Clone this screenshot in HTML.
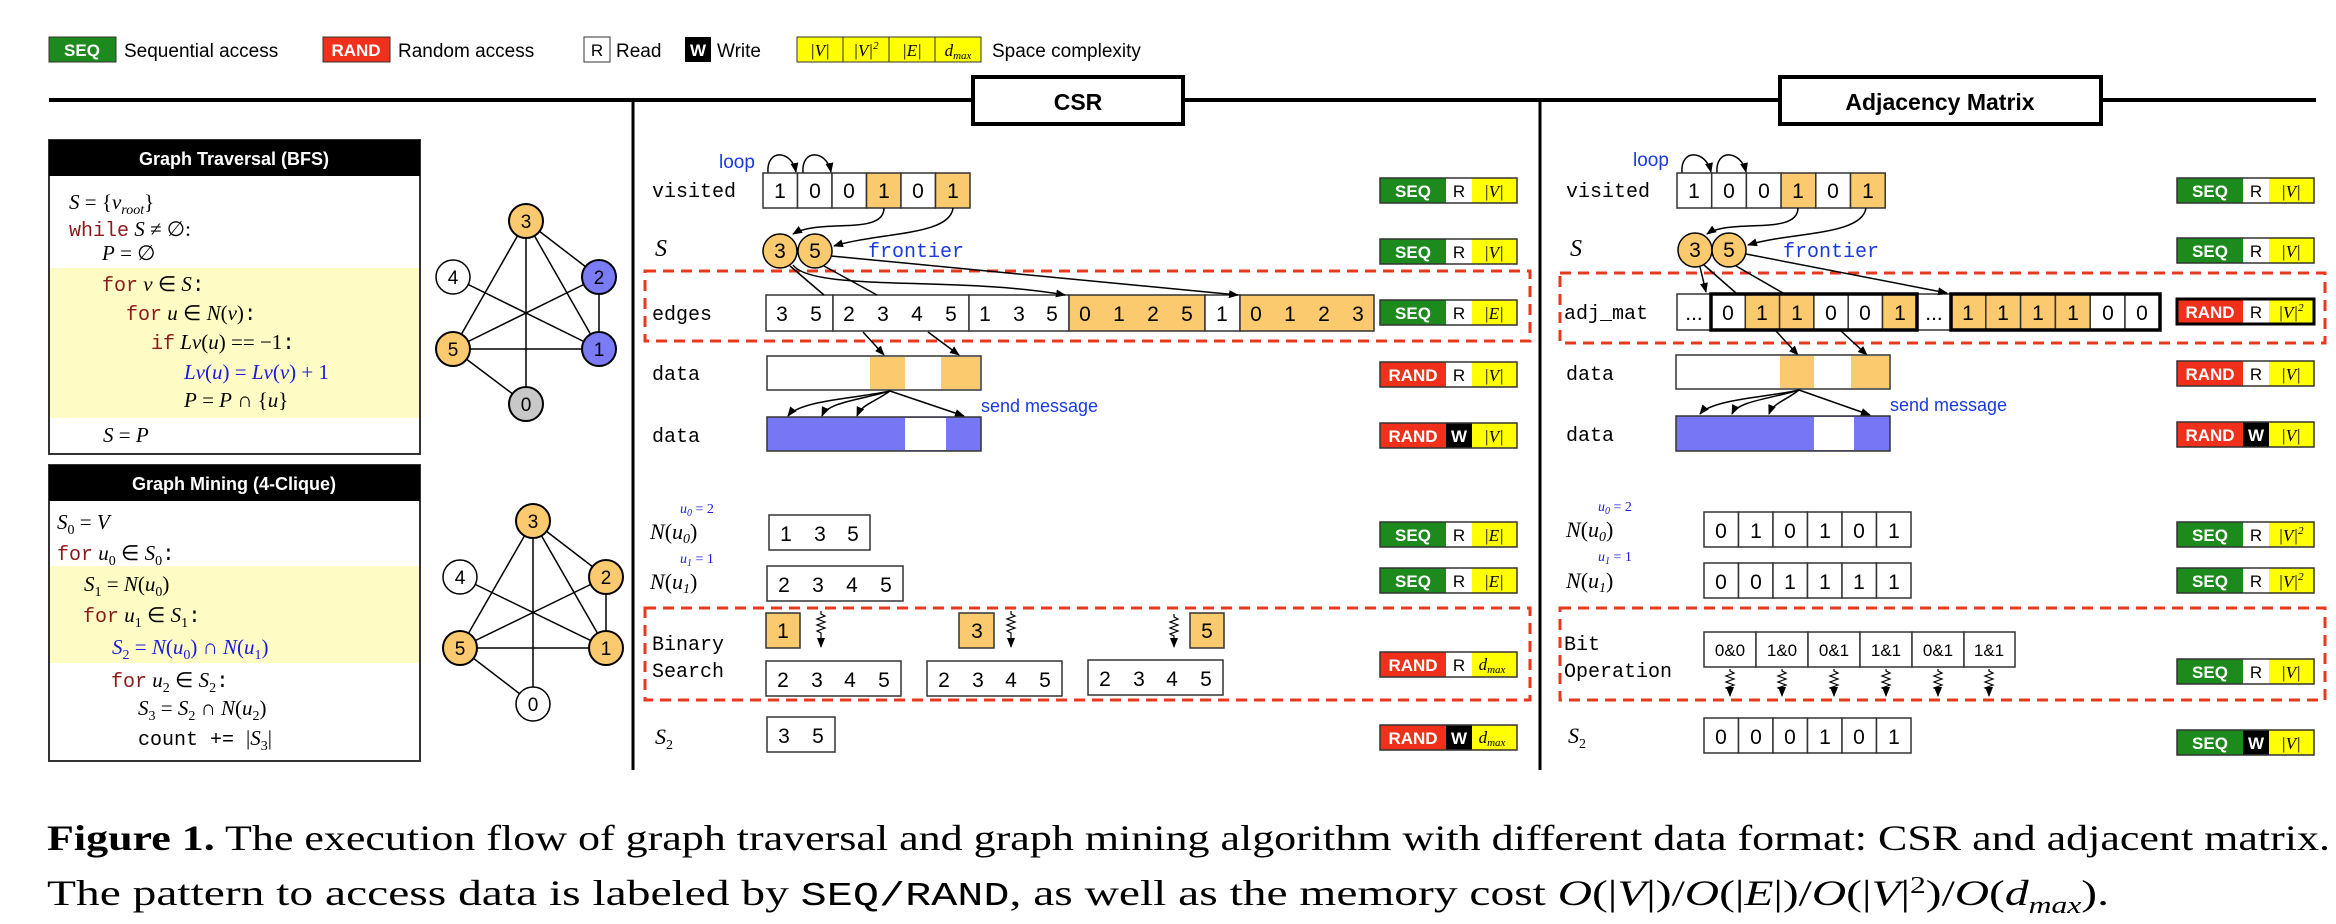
<!DOCTYPE html>
<html><head><meta charset="utf-8"><style>
html,body{margin:0;padding:0;background:#fff;}
svg{display:block;}
.s{font-family:"Liberation Sans",sans-serif;}
.m{font-family:"Liberation Mono",monospace;}
.it{font-family:"Liberation Serif",serif;font-style:italic;}
.c{font-family:"Liberation Sans",sans-serif;font-size:21px;text-anchor:middle;}
.bw{font-family:"Liberation Sans",sans-serif;font-weight:bold;font-size:17px;fill:#fff;text-anchor:middle;}
.bk{font-family:"Liberation Sans",sans-serif;font-size:17px;text-anchor:middle;}
.by{font-family:"Liberation Serif",serif;font-style:italic;font-size:17px;text-anchor:middle;}
.lbl{font-family:"Liberation Mono",monospace;font-size:20px;}
</style></head><body>
<svg width="2336" height="924" viewBox="0 0 2336 924" xmlns="http://www.w3.org/2000/svg">
<defs>
<marker id="a" markerWidth="10" markerHeight="8" refX="9" refY="4" orient="auto" markerUnits="userSpaceOnUse"><path d="M0,0 L10,4 L0,8 z" fill="#000"/></marker>
</defs>

<!-- Legend -->
<rect x="49" y="37" width="67" height="25" fill="#1c8a1c" stroke="#333"/>
<text x="82" y="56" class="bw">SEQ</text>
<text x="124" y="57" class="s" font-size="19">Sequential access</text>
<rect x="323" y="37" width="67" height="25" fill="#f0301a" stroke="#333"/>
<text x="356" y="56" class="bw">RAND</text>
<text x="398" y="57" class="s" font-size="19">Random access</text>
<rect x="584" y="37" width="26" height="25" fill="#fff" stroke="#333"/>
<text x="597" y="56" class="bk">R</text>
<text x="616" y="57" class="s" font-size="19">Read</text>
<rect x="685" y="37" width="26" height="25" fill="#000"/>
<text x="698" y="56" class="bw">W</text>
<text x="717" y="57" class="s" font-size="19">Write</text>
<rect x="797" y="37" width="184" height="25" fill="#ffff00" stroke="#333"/>
<line x1="843" y1="37" x2="843" y2="62" stroke="#333"/><line x1="889" y1="37" x2="889" y2="62" stroke="#333"/><line x1="935" y1="37" x2="935" y2="62" stroke="#333"/>
<text x="820" y="56" class="by">|V|</text>
<text x="866" y="56" class="by">|V|<tspan font-size="11" dy="-7">2</tspan></text>
<text x="912" y="56" class="by">|E|</text>
<text x="958" y="56" class="by" font-style="normal">d<tspan font-size="11" font-style="italic" dy="3">max</tspan></text>
<text x="992" y="57" class="s" font-size="19">Space  complexity</text>

<!-- Frame -->
<line x1="49" y1="100" x2="2316" y2="100" stroke="#000" stroke-width="4"/>
<line x1="633" y1="100" x2="633" y2="770" stroke="#000" stroke-width="3"/>
<line x1="1540" y1="100" x2="1540" y2="770" stroke="#000" stroke-width="3"/>
<rect x="973" y="77" width="210" height="47" fill="#fff" stroke="#000" stroke-width="4"/>
<text x="1078" y="110" class="s" font-size="23" font-weight="bold" text-anchor="middle">CSR</text>
<rect x="1780" y="77" width="321" height="47" fill="#fff" stroke="#000" stroke-width="4"/>
<text x="1940" y="110" class="s" font-size="23" font-weight="bold" text-anchor="middle">Adjacency Matrix</text>

<!-- BFS box -->
<rect x="49" y="140" width="371" height="314" fill="#fff" stroke="#333" stroke-width="2"/>
<rect x="50" y="268" width="369" height="150" fill="#fffbc4"/>
<rect x="49" y="140" width="371" height="36" fill="#000"/>
<text x="234" y="165" class="s" font-size="18" font-weight="bold" fill="#fff" text-anchor="middle">Graph Traversal (BFS)</text>
<g font-size="21">
<text x="69" y="209" class="it">S<tspan font-style="normal"> = {</tspan>v<tspan font-size="14" dy="5">root</tspan><tspan dy="-5" font-style="normal">}</tspan></text>
<text x="69" y="236"><tspan class="m" fill="#8b1a1a" font-size="20">while</tspan><tspan class="it"> S</tspan><tspan font-family="Liberation Serif"> ≠ ∅:</tspan></text>
<text x="102" y="260" class="it">P<tspan font-style="normal"> = ∅</tspan></text>
<text x="102" y="291"><tspan class="m" fill="#8b1a1a" font-size="20">for</tspan><tspan class="it"> v</tspan><tspan font-family="Liberation Serif"> ∈ </tspan><tspan class="it">S</tspan><tspan class="m">:</tspan></text>
<text x="126" y="320"><tspan class="m" fill="#8b1a1a" font-size="20">for</tspan><tspan class="it"> u</tspan><tspan font-family="Liberation Serif"> ∈ </tspan><tspan class="it">N</tspan><tspan font-family="Liberation Serif">(</tspan><tspan class="it">v</tspan><tspan font-family="Liberation Serif">)</tspan><tspan class="m">:</tspan></text>
<text x="151" y="349"><tspan class="m" fill="#8b1a1a" font-size="20">if</tspan><tspan class="it"> Lv</tspan><tspan font-family="Liberation Serif">(</tspan><tspan class="it">u</tspan><tspan font-family="Liberation Serif">) == −1</tspan><tspan class="m">:</tspan></text>
<text x="184" y="379" fill="#1a1ae0" font-family="Liberation Serif"><tspan font-style="italic">Lv</tspan>(<tspan font-style="italic">u</tspan>) = <tspan font-style="italic">Lv</tspan>(<tspan font-style="italic">v</tspan>) + 1</text>
<text x="184" y="407" font-family="Liberation Serif"><tspan font-style="italic">P</tspan> = <tspan font-style="italic">P</tspan> ∩ {<tspan font-style="italic">u</tspan>}</text>
<text x="103" y="442" font-family="Liberation Serif"><tspan font-style="italic">S</tspan> = <tspan font-style="italic">P</tspan></text>
</g>

<!-- BFS graph -->
<g stroke="#000" stroke-width="1.5">
<line x1="526" y1="221" x2="599" y2="277"/><line x1="526" y1="221" x2="453" y2="349"/><line x1="526" y1="221" x2="599" y2="349"/><line x1="526" y1="221" x2="526" y2="404"/>
<line x1="453" y1="277" x2="599" y2="349"/><line x1="453" y1="349" x2="599" y2="277"/><line x1="453" y1="349" x2="599" y2="349"/><line x1="453" y1="349" x2="526" y2="404"/><line x1="599" y1="277" x2="599" y2="349"/>
</g>
<g stroke="#000" stroke-width="2" class="s" font-size="19" text-anchor="middle">
<circle cx="526" cy="221" r="17" fill="#fbc96e"/><circle cx="599" cy="277" r="17" fill="#7b7bf5"/><circle cx="453" cy="277" r="17" fill="#fff" stroke-width="1.5"/>
<circle cx="453" cy="349" r="17" fill="#fbc96e"/><circle cx="599" cy="349" r="17" fill="#7b7bf5"/><circle cx="526" cy="404" r="17" fill="#c8c8c8"/>
</g>
<g class="s" font-size="19" text-anchor="middle">
<text x="526" y="228">3</text><text x="599" y="284">2</text><text x="453" y="284">4</text><text x="453" y="356">5</text><text x="599" y="356">1</text><text x="526" y="411">0</text>
</g>

<!-- Mining box -->
<rect x="49" y="465" width="371" height="296" fill="#fff" stroke="#333" stroke-width="2"/>
<rect x="50" y="566" width="369" height="97" fill="#fffbc4"/>
<rect x="49" y="465" width="371" height="36" fill="#000"/>
<text x="234" y="490" class="s" font-size="18" font-weight="bold" fill="#fff" text-anchor="middle">Graph Mining (4-Clique)</text>
<g font-size="21" font-family="Liberation Serif">
<text x="57" y="529"><tspan font-style="italic">S</tspan><tspan font-size="14" dy="5">0</tspan><tspan dy="-5"> = </tspan><tspan font-style="italic">V</tspan></text>
<text x="57" y="560"><tspan class="m" fill="#8b1a1a" font-size="20">for</tspan><tspan font-style="italic"> u</tspan><tspan font-size="14" dy="5">0</tspan><tspan dy="-5"> ∈ </tspan><tspan font-style="italic">S</tspan><tspan font-size="14" dy="5">0</tspan><tspan dy="-5" class="m">:</tspan></text>
<text x="84" y="591"><tspan font-style="italic">S</tspan><tspan font-size="14" dy="5">1</tspan><tspan dy="-5"> = </tspan><tspan font-style="italic">N</tspan>(<tspan font-style="italic">u</tspan><tspan font-size="14" dy="5">0</tspan><tspan dy="-5">)</tspan></text>
<text x="83" y="622"><tspan class="m" fill="#8b1a1a" font-size="20">for</tspan><tspan font-style="italic"> u</tspan><tspan font-size="14" dy="5">1</tspan><tspan dy="-5"> ∈ </tspan><tspan font-style="italic">S</tspan><tspan font-size="14" dy="5">1</tspan><tspan dy="-5" class="m">:</tspan></text>
<text x="112" y="654" fill="#1a1ae0"><tspan font-style="italic">S</tspan><tspan font-size="14" dy="5">2</tspan><tspan dy="-5"> = </tspan><tspan font-style="italic">N</tspan>(<tspan font-style="italic">u</tspan><tspan font-size="14" dy="5">0</tspan><tspan dy="-5">) ∩ </tspan><tspan font-style="italic">N</tspan>(<tspan font-style="italic">u</tspan><tspan font-size="14" dy="5">1</tspan><tspan dy="-5">)</tspan></text>
<text x="111" y="687"><tspan class="m" fill="#8b1a1a" font-size="20">for</tspan><tspan font-style="italic"> u</tspan><tspan font-size="14" dy="5">2</tspan><tspan dy="-5"> ∈ </tspan><tspan font-style="italic">S</tspan><tspan font-size="14" dy="5">2</tspan><tspan dy="-5" class="m">:</tspan></text>
<text x="138" y="715"><tspan font-style="italic">S</tspan><tspan font-size="14" dy="5">3</tspan><tspan dy="-5"> = </tspan><tspan font-style="italic">S</tspan><tspan font-size="14" dy="5">2</tspan><tspan dy="-5"> ∩ </tspan><tspan font-style="italic">N</tspan>(<tspan font-style="italic">u</tspan><tspan font-size="14" dy="5">2</tspan><tspan dy="-5">)</tspan></text>
<text x="138" y="745"><tspan class="m" font-size="20">count += </tspan>|<tspan font-style="italic">S</tspan><tspan font-size="14" dy="5">3</tspan><tspan dy="-5">|</tspan></text>
</g>

<!-- Mining graph -->
<g stroke="#000" stroke-width="1.5">
<line x1="533" y1="521" x2="606" y2="577"/><line x1="533" y1="521" x2="460" y2="648"/><line x1="533" y1="521" x2="606" y2="648"/><line x1="533" y1="521" x2="533" y2="704"/>
<line x1="460" y1="577" x2="606" y2="648"/><line x1="460" y1="648" x2="606" y2="577"/><line x1="460" y1="648" x2="606" y2="648"/><line x1="460" y1="648" x2="533" y2="704"/><line x1="606" y1="577" x2="606" y2="648"/>
</g>
<g stroke="#000" stroke-width="2">
<circle cx="533" cy="521" r="17" fill="#fbc96e"/><circle cx="606" cy="577" r="17" fill="#fbc96e"/><circle cx="460" cy="577" r="17" fill="#fff" stroke-width="1.5"/>
<circle cx="460" cy="648" r="17" fill="#fbc96e"/><circle cx="606" cy="648" r="17" fill="#fbc96e"/><circle cx="533" cy="704" r="17" fill="#fff" stroke-width="1.5"/>
</g>
<g class="s" font-size="19" text-anchor="middle">
<text x="533" y="528">3</text><text x="606" y="584">2</text><text x="460" y="584">4</text><text x="460" y="655">5</text><text x="606" y="655">1</text><text x="533" y="711">0</text>
</g>

<!-- ===== CSR panel ===== -->
<text x="719" y="168" class="s" font-size="19" fill="#1a3ae0">loop</text>
<path d="M768,173 C766,148 792,150 796,172" fill="none" stroke="#000" stroke-width="1.5" marker-end="url(#a)"/>
<path d="M803,173 C801,148 827,150 831,172" fill="none" stroke="#000" stroke-width="1.5" marker-end="url(#a)"/>
<text x="652" y="197" class="lbl">visited</text>
<g stroke="#333" stroke-width="1.5">
<rect x="763" y="173" width="34.5" height="35" fill="#fff"/><rect x="797.5" y="173" width="34.5" height="35" fill="#fff"/><rect x="832" y="173" width="34.5" height="35" fill="#fff"/>
<rect x="866.5" y="173" width="34.5" height="35" fill="#fbc96e"/><rect x="901" y="173" width="34.5" height="35" fill="#fff"/><rect x="935.5" y="173" width="34.5" height="35" fill="#fbc96e"/>
</g>
<g class="c"><text x="780" y="198">1</text><text x="815" y="198">0</text><text x="849" y="198">0</text><text x="884" y="198">1</text><text x="918" y="198">0</text><text x="953" y="198">1</text></g>
<path d="M884,208 C884,236 820,218 793,234" fill="none" stroke="#000" stroke-width="1.5" marker-end="url(#a)"/>
<path d="M953,208 C950,236 880,232 834,246" fill="none" stroke="#000" stroke-width="1.5" marker-end="url(#a)"/>
<text x="655" y="256" class="it" font-size="24">S</text>
<circle cx="780" cy="251" r="17" fill="#fbc96e" stroke="#000" stroke-width="1.5"/>
<circle cx="815" cy="251" r="17" fill="#fbc96e" stroke="#000" stroke-width="1.5"/>
<text x="780" y="258" class="c">3</text><text x="815" y="258" class="c">5</text>
<text x="868" y="257" class="m" font-size="20" fill="#1a3ae0">frontier</text>

<rect x="645" y="271" width="885" height="70" fill="none" stroke="#e8381e" stroke-width="3" stroke-dasharray="11,7"/>
<text x="652" y="320" class="lbl">edges</text>
<g stroke="#333" stroke-width="1.5">
<rect x="766" y="295" width="67" height="36" fill="#fff"/><rect x="833" y="295" width="136" height="36" fill="#fff"/><rect x="969" y="295" width="100" height="36" fill="#fff"/>
<rect x="1069" y="295" width="136" height="36" fill="#fbc96e"/><rect x="1205" y="295" width="35" height="36" fill="#fff"/><rect x="1240" y="295" width="134" height="36" fill="#fbc96e"/>
</g>
<g class="c">
<text x="782" y="321">3</text><text x="816" y="321">5</text>
<text x="849" y="321">2</text><text x="883" y="321">3</text><text x="917" y="321">4</text><text x="951" y="321">5</text>
<text x="985" y="321">1</text><text x="1019" y="321">3</text><text x="1052" y="321">5</text>
<text x="1085" y="321">0</text><text x="1119" y="321">1</text><text x="1153" y="321">2</text><text x="1187" y="321">5</text>
<text x="1222" y="321">1</text>
<text x="1256" y="321">0</text><text x="1290" y="321">1</text><text x="1324" y="321">2</text><text x="1358" y="321">3</text>
</g>
<g stroke="#000" stroke-width="1.5" fill="none">
<line x1="790" y1="266" x2="824" y2="295"/>
<line x1="824" y1="266" x2="877" y2="295"/>
<path d="M793,265 C812,292 960,276 1065,295" marker-end="url(#a)"/>
<line x1="831" y1="256" x2="1238" y2="295" marker-end="url(#a)"/>
<line x1="863" y1="332" x2="884" y2="355" marker-end="url(#a)"/>
<line x1="928" y1="332" x2="959" y2="355" marker-end="url(#a)"/>
</g>
<text x="652" y="380" class="lbl">data</text>
<rect x="767" y="356" width="214" height="34" fill="#fff" stroke="#333" stroke-width="1.5"/>
<rect x="870" y="357" width="35" height="32" fill="#fbc96e"/><rect x="941" y="357" width="39" height="32" fill="#fbc96e"/>
<g stroke="#000" stroke-width="1.5" fill="none">
<path d="M890,391 C860,398 800,400 788,416" marker-end="url(#a)"/>
<path d="M890,391 C860,400 828,402 822,416" marker-end="url(#a)"/>
<path d="M890,391 C875,402 862,404 857,416" marker-end="url(#a)"/>
<line x1="890" y1="391" x2="964" y2="416" marker-end="url(#a)"/>
</g>
<text x="981" y="412" class="s" font-size="18" fill="#1a3ae0">send message</text>
<text x="652" y="442" class="lbl">data</text>
<rect x="767" y="417" width="214" height="34" fill="#7777f5" stroke="#333" stroke-width="1.5"/>
<rect x="905" y="418" width="41" height="32" fill="#fff"/>

<!-- CSR bottom -->
<text x="680" y="513" class="it" font-size="14" fill="#1a1ae0">u<tspan font-size="10" dy="3">0</tspan><tspan dy="-3" font-style="normal"> = 2</tspan></text>
<text x="650" y="539" class="it" font-size="22">N<tspan font-style="normal">(</tspan>u<tspan font-size="14" dy="4">0</tspan><tspan dy="-4" font-style="normal">)</tspan></text>
<rect x="769" y="515" width="101" height="35" fill="#fff" stroke="#333" stroke-width="1.5"/>
<g class="c"><text x="786" y="541">1</text><text x="820" y="541">3</text><text x="853" y="541">5</text></g>
<text x="680" y="563" class="it" font-size="14" fill="#1a1ae0">u<tspan font-size="10" dy="3">1</tspan><tspan dy="-3" font-style="normal"> = 1</tspan></text>
<text x="650" y="589" class="it" font-size="22">N<tspan font-style="normal">(</tspan>u<tspan font-size="14" dy="4">1</tspan><tspan dy="-4" font-style="normal">)</tspan></text>
<rect x="767" y="566" width="136" height="35" fill="#fff" stroke="#333" stroke-width="1.5"/>
<g class="c"><text x="784" y="592">2</text><text x="818" y="592">3</text><text x="852" y="592">4</text><text x="886" y="592">5</text></g>

<rect x="645" y="608" width="885" height="92" fill="none" stroke="#e8381e" stroke-width="3" stroke-dasharray="11,7"/>
<text x="652" y="650" class="lbl">Binary</text>
<text x="652" y="677" class="lbl">Search</text>
<g stroke="#333" stroke-width="1.5">
<rect x="766" y="613" width="34" height="35" fill="#fbc96e"/><rect x="959" y="613" width="35" height="35" fill="#fbc96e"/><rect x="1190" y="613" width="34" height="35" fill="#fbc96e"/>
<rect x="766" y="661" width="135" height="35" fill="#fff"/><rect x="927" y="661" width="135" height="35" fill="#fff"/><rect x="1088" y="660" width="135" height="35" fill="#fff"/>
</g>
<g class="c">
<text x="783" y="638">1</text><text x="977" y="638">3</text><text x="1207" y="638">5</text>
<text x="783" y="687">2</text><text x="817" y="687">3</text><text x="850" y="687">4</text><text x="884" y="687">5</text>
<text x="944" y="687">2</text><text x="978" y="687">3</text><text x="1011" y="687">4</text><text x="1045" y="687">5</text>
<text x="1105" y="686">2</text><text x="1139" y="686">3</text><text x="1172" y="686">4</text><text x="1206" y="686">5</text>
</g>
<g stroke="#000" stroke-width="1.2" fill="none">
<path d="M821,611 l0,3 l4,2 l-8,3 l8,3 l-8,3 l8,3 l-8,3 l4,2 l0,14" marker-end="url(#a)"/>
<path d="M1011,611 l0,3 l4,2 l-8,3 l8,3 l-8,3 l8,3 l-8,3 l4,2 l0,14" marker-end="url(#a)"/>
<path d="M1174,614 l0,3 l4,2 l-8,3 l8,3 l-8,3 l8,3 l-8,3 l4,2 l0,11" marker-end="url(#a)"/>
</g>
<text x="655" y="744" class="it" font-size="22">S<tspan font-size="14" dy="5" font-style="normal">2</tspan></text>
<rect x="767" y="717" width="68" height="35" fill="#fff" stroke="#333" stroke-width="1.5"/>
<g class="c"><text x="784" y="743">3</text><text x="818" y="743">5</text></g>

<!-- ===== Adjacency panel ===== -->
<text x="1633" y="166" class="s" font-size="19" fill="#1a3ae0">loop</text>
<path d="M1682,173 C1680,148 1706,150 1711,172" fill="none" stroke="#000" stroke-width="1.5" marker-end="url(#a)"/>
<path d="M1717,173 C1715,148 1741,150 1746,172" fill="none" stroke="#000" stroke-width="1.5" marker-end="url(#a)"/>
<text x="1566" y="197" class="lbl">visited</text>
<g stroke="#333" stroke-width="1.5">
<rect x="1677" y="173" width="34.7" height="35" fill="#fff"/><rect x="1711.7" y="173" width="34.7" height="35" fill="#fff"/><rect x="1746.4" y="173" width="34.7" height="35" fill="#fff"/>
<rect x="1781.1" y="173" width="34.7" height="35" fill="#fbc96e"/><rect x="1815.8" y="173" width="34.7" height="35" fill="#fff"/><rect x="1850.5" y="173" width="34.7" height="35" fill="#fbc96e"/>
</g>
<g class="c"><text x="1694" y="198">1</text><text x="1729" y="198">0</text><text x="1764" y="198">0</text><text x="1798" y="198">1</text><text x="1833" y="198">0</text><text x="1868" y="198">1</text></g>
<path d="M1798,208 C1798,236 1730,218 1707,234" fill="none" stroke="#000" stroke-width="1.5" marker-end="url(#a)"/>
<path d="M1866,208 C1862,236 1790,232 1748,245" fill="none" stroke="#000" stroke-width="1.5" marker-end="url(#a)"/>
<text x="1570" y="256" class="it" font-size="24">S</text>
<circle cx="1695" cy="250" r="17" fill="#fbc96e" stroke="#000" stroke-width="1.5"/>
<circle cx="1729" cy="250" r="17" fill="#fbc96e" stroke="#000" stroke-width="1.5"/>
<text x="1695" y="257" class="c">3</text><text x="1729" y="257" class="c">5</text>
<text x="1783" y="257" class="m" font-size="20" fill="#1a3ae0">frontier</text>

<rect x="1560" y="273" width="765" height="70" fill="none" stroke="#e8381e" stroke-width="3" stroke-dasharray="11,7"/>
<text x="1564" y="319" class="lbl">adj_mat</text>
<g stroke="#333" stroke-width="1.5">
<rect x="1677" y="294" width="34" height="36" fill="#fff"/>
<rect x="1711" y="294" width="34.3" height="36" fill="#fff"/><rect x="1745.3" y="294" width="34.3" height="36" fill="#fbc96e"/><rect x="1779.6" y="294" width="34.3" height="36" fill="#fbc96e"/>
<rect x="1813.9" y="294" width="34.3" height="36" fill="#fff"/><rect x="1848.2" y="294" width="34.3" height="36" fill="#fff"/><rect x="1882.5" y="294" width="34.5" height="36" fill="#fbc96e"/>
<rect x="1917" y="294" width="34" height="36" fill="#fff"/>
<rect x="1951" y="294" width="34.8" height="36" fill="#fbc96e"/><rect x="1985.8" y="294" width="34.8" height="36" fill="#fbc96e"/><rect x="2020.6" y="294" width="34.8" height="36" fill="#fbc96e"/>
<rect x="2055.4" y="294" width="34.8" height="36" fill="#fbc96e"/><rect x="2090.2" y="294" width="34.8" height="36" fill="#fff"/><rect x="2125" y="294" width="35" height="36" fill="#fff"/>
</g>
<rect x="1711" y="294" width="206" height="36" fill="none" stroke="#000" stroke-width="3.5"/>
<rect x="1951" y="294" width="209" height="36" fill="none" stroke="#000" stroke-width="3.5"/>
<g class="c">
<text x="1694" y="320">...</text>
<text x="1728" y="320">0</text><text x="1762" y="320">1</text><text x="1797" y="320">1</text><text x="1831" y="320">0</text><text x="1865" y="320">0</text><text x="1900" y="320">1</text>
<text x="1934" y="320">...</text>
<text x="1968" y="320">1</text><text x="2003" y="320">1</text><text x="2038" y="320">1</text><text x="2073" y="320">1</text><text x="2108" y="320">0</text><text x="2142" y="320">0</text>
</g>
<g stroke="#000" stroke-width="1.5" fill="none">
<line x1="1700" y1="267" x2="1706" y2="292" marker-end="url(#a)"/>
<line x1="1704" y1="265" x2="1736" y2="293"/>
<line x1="1736" y1="266" x2="1783" y2="293"/>
<line x1="1746" y1="254" x2="1947" y2="293" marker-end="url(#a)"/>
<line x1="1776" y1="331" x2="1798" y2="355" marker-end="url(#a)"/>
<line x1="1841" y1="331" x2="1867" y2="355" marker-end="url(#a)"/>
</g>
<text x="1566" y="380" class="lbl">data</text>
<rect x="1676" y="355" width="214" height="34" fill="#fff" stroke="#333" stroke-width="1.5"/>
<rect x="1780" y="356" width="34" height="32" fill="#fbc96e"/><rect x="1851" y="356" width="38" height="32" fill="#fbc96e"/>
<g stroke="#000" stroke-width="1.5" fill="none">
<path d="M1799,390 C1770,397 1712,399 1700,414" marker-end="url(#a)"/>
<path d="M1799,390 C1770,399 1738,401 1732,414" marker-end="url(#a)"/>
<path d="M1799,390 C1785,401 1773,403 1769,414" marker-end="url(#a)"/>
<line x1="1799" y1="390" x2="1870" y2="415" marker-end="url(#a)"/>
</g>
<text x="1890" y="411" class="s" font-size="18" fill="#1a3ae0">send message</text>
<text x="1566" y="441" class="lbl">data</text>
<rect x="1676" y="416" width="214" height="35" fill="#7777f5" stroke="#333" stroke-width="1.5"/>
<rect x="1814" y="417" width="40" height="33" fill="#fff"/>

<!-- Adj bottom -->
<text x="1598" y="511" class="it" font-size="14" fill="#1a1ae0">u<tspan font-size="10" dy="3">0</tspan><tspan dy="-3" font-style="normal"> = 2</tspan></text>
<text x="1566" y="537" class="it" font-size="22">N<tspan font-style="normal">(</tspan>u<tspan font-size="14" dy="4">0</tspan><tspan dy="-4" font-style="normal">)</tspan></text>
<g stroke="#333" stroke-width="1.5" fill="#fff">
<rect x="1704" y="512" width="34.5" height="35"/><rect x="1738.5" y="512" width="34.5" height="35"/><rect x="1773" y="512" width="34.5" height="35"/><rect x="1807.5" y="512" width="34.5" height="35"/><rect x="1842" y="512" width="34.5" height="35"/><rect x="1876.5" y="512" width="34.5" height="35"/>
<rect x="1704" y="563" width="34.5" height="35"/><rect x="1738.5" y="563" width="34.5" height="35"/><rect x="1773" y="563" width="34.5" height="35"/><rect x="1807.5" y="563" width="34.5" height="35"/><rect x="1842" y="563" width="34.5" height="35"/><rect x="1876.5" y="563" width="34.5" height="35"/>
<rect x="1704" y="718" width="34.5" height="35"/><rect x="1738.5" y="718" width="34.5" height="35"/><rect x="1773" y="718" width="34.5" height="35"/><rect x="1807.5" y="718" width="34.5" height="35"/><rect x="1842" y="718" width="34.5" height="35"/><rect x="1876.5" y="718" width="34.5" height="35"/>
</g>
<g class="c">
<text x="1721" y="538">0</text><text x="1756" y="538">1</text><text x="1790" y="538">0</text><text x="1825" y="538">1</text><text x="1859" y="538">0</text><text x="1894" y="538">1</text>
<text x="1721" y="589">0</text><text x="1756" y="589">0</text><text x="1790" y="589">1</text><text x="1825" y="589">1</text><text x="1859" y="589">1</text><text x="1894" y="589">1</text>
<text x="1721" y="744">0</text><text x="1756" y="744">0</text><text x="1790" y="744">0</text><text x="1825" y="744">1</text><text x="1859" y="744">0</text><text x="1894" y="744">1</text>
</g>
<text x="1598" y="561" class="it" font-size="14" fill="#1a1ae0">u<tspan font-size="10" dy="3">1</tspan><tspan dy="-3" font-style="normal"> = 1</tspan></text>
<text x="1566" y="588" class="it" font-size="22">N<tspan font-style="normal">(</tspan>u<tspan font-size="14" dy="4">1</tspan><tspan dy="-4" font-style="normal">)</tspan></text>

<rect x="1560" y="608" width="765" height="92" fill="none" stroke="#e8381e" stroke-width="3" stroke-dasharray="11,7"/>
<text x="1564" y="650" class="lbl">Bit</text>
<text x="1564" y="677" class="lbl">Operation</text>
<g stroke="#333" stroke-width="1.5" fill="#fff">
<rect x="1704" y="632" width="52" height="35"/><rect x="1756" y="632" width="52" height="35"/><rect x="1808" y="632" width="52" height="35"/><rect x="1860" y="632" width="52" height="35"/><rect x="1912" y="632" width="52" height="35"/><rect x="1964" y="632" width="51" height="35"/>
</g>
<g class="s" font-size="17" text-anchor="middle">
<text x="1730" y="656">0&amp;0</text><text x="1782" y="656">1&amp;0</text><text x="1834" y="656">0&amp;1</text><text x="1886" y="656">1&amp;1</text><text x="1938" y="656">0&amp;1</text><text x="1989" y="656">1&amp;1</text>
</g>
<g stroke="#000" stroke-width="1.2" fill="none">
<path d="M1730,669 l0,2 l4,2 l-8,3 l8,3 l-8,3 l8,3 l-8,3 l4,2 l0,6" marker-end="url(#a)"/>
<path d="M1782,669 l0,2 l4,2 l-8,3 l8,3 l-8,3 l8,3 l-8,3 l4,2 l0,6" marker-end="url(#a)"/>
<path d="M1834,669 l0,2 l4,2 l-8,3 l8,3 l-8,3 l8,3 l-8,3 l4,2 l0,6" marker-end="url(#a)"/>
<path d="M1886,669 l0,2 l4,2 l-8,3 l8,3 l-8,3 l8,3 l-8,3 l4,2 l0,6" marker-end="url(#a)"/>
<path d="M1938,669 l0,2 l4,2 l-8,3 l8,3 l-8,3 l8,3 l-8,3 l4,2 l0,6" marker-end="url(#a)"/>
<path d="M1989,669 l0,2 l4,2 l-8,3 l8,3 l-8,3 l8,3 l-8,3 l4,2 l0,6" marker-end="url(#a)"/>
</g>
<text x="1568" y="743" class="it" font-size="22">S<tspan font-size="14" dy="5" font-style="normal">2</tspan></text>

<!-- Badges CSR -->
<g transform="translate(1380,178)"><rect width="66" height="25" fill="#1c8a1c"/><text x="33" y="19" class="bw">SEQ</text><rect x="66" width="26" height="25" fill="#fff"/><text x="79" y="19" class="bk">R</text><rect x="92" width="45" height="25" fill="#ff0"/><text x="114" y="19" class="by">|V|</text><rect width="137" height="25" fill="none" stroke="#333" stroke-width="1.5"/></g>
<g transform="translate(1380,239)"><rect width="66" height="25" fill="#1c8a1c"/><text x="33" y="19" class="bw">SEQ</text><rect x="66" width="26" height="25" fill="#fff"/><text x="79" y="19" class="bk">R</text><rect x="92" width="45" height="25" fill="#ff0"/><text x="114" y="19" class="by">|V|</text><rect width="137" height="25" fill="none" stroke="#333" stroke-width="1.5"/></g>
<g transform="translate(1380,300)"><rect width="66" height="25" fill="#1c8a1c"/><text x="33" y="19" class="bw">SEQ</text><rect x="66" width="26" height="25" fill="#fff"/><text x="79" y="19" class="bk">R</text><rect x="92" width="45" height="25" fill="#ff0"/><text x="114" y="19" class="by">|E|</text><rect width="137" height="25" fill="none" stroke="#333" stroke-width="1.5"/></g>
<g transform="translate(1380,362)"><rect width="66" height="25" fill="#f0301a"/><text x="33" y="19" class="bw">RAND</text><rect x="66" width="26" height="25" fill="#fff"/><text x="79" y="19" class="bk">R</text><rect x="92" width="45" height="25" fill="#ff0"/><text x="114" y="19" class="by">|V|</text><rect width="137" height="25" fill="none" stroke="#333" stroke-width="1.5"/></g>
<g transform="translate(1380,423)"><rect width="66" height="25" fill="#f0301a"/><text x="33" y="19" class="bw">RAND</text><rect x="66" width="26" height="25" fill="#000"/><text x="79" y="19" class="bw">W</text><rect x="92" width="45" height="25" fill="#ff0"/><text x="114" y="19" class="by">|V|</text><rect width="137" height="25" fill="none" stroke="#333" stroke-width="1.5"/></g>
<g transform="translate(1380,522)"><rect width="66" height="25" fill="#1c8a1c"/><text x="33" y="19" class="bw">SEQ</text><rect x="66" width="26" height="25" fill="#fff"/><text x="79" y="19" class="bk">R</text><rect x="92" width="45" height="25" fill="#ff0"/><text x="114" y="19" class="by">|E|</text><rect width="137" height="25" fill="none" stroke="#333" stroke-width="1.5"/></g>
<g transform="translate(1380,568)"><rect width="66" height="25" fill="#1c8a1c"/><text x="33" y="19" class="bw">SEQ</text><rect x="66" width="26" height="25" fill="#fff"/><text x="79" y="19" class="bk">R</text><rect x="92" width="45" height="25" fill="#ff0"/><text x="114" y="19" class="by">|E|</text><rect width="137" height="25" fill="none" stroke="#333" stroke-width="1.5"/></g>
<g transform="translate(1380,652)"><rect width="66" height="25" fill="#f0301a"/><text x="33" y="19" class="bw">RAND</text><rect x="66" width="26" height="25" fill="#fff"/><text x="79" y="19" class="bk">R</text><rect x="92" width="45" height="25" fill="#ff0"/><text x="112" y="18" class="by" font-style="normal">d<tspan font-size="11" font-style="italic" dy="3">max</tspan></text><rect width="137" height="25" fill="none" stroke="#333" stroke-width="1.5"/></g>
<g transform="translate(1380,725)"><rect width="66" height="25" fill="#f0301a"/><text x="33" y="19" class="bw">RAND</text><rect x="66" width="26" height="25" fill="#000"/><text x="79" y="19" class="bw">W</text><rect x="92" width="45" height="25" fill="#ff0"/><text x="112" y="18" class="by" font-style="normal">d<tspan font-size="11" font-style="italic" dy="3">max</tspan></text><rect width="137" height="25" fill="none" stroke="#333" stroke-width="1.5"/></g>

<!-- Badges Adj -->
<g transform="translate(2177,178)"><rect width="66" height="25" fill="#1c8a1c"/><text x="33" y="19" class="bw">SEQ</text><rect x="66" width="26" height="25" fill="#fff"/><text x="79" y="19" class="bk">R</text><rect x="92" width="45" height="25" fill="#ff0"/><text x="114" y="19" class="by">|V|</text><rect width="137" height="25" fill="none" stroke="#333" stroke-width="1.5"/></g>
<g transform="translate(2177,238)"><rect width="66" height="25" fill="#1c8a1c"/><text x="33" y="19" class="bw">SEQ</text><rect x="66" width="26" height="25" fill="#fff"/><text x="79" y="19" class="bk">R</text><rect x="92" width="45" height="25" fill="#ff0"/><text x="114" y="19" class="by">|V|</text><rect width="137" height="25" fill="none" stroke="#333" stroke-width="1.5"/></g>
<g transform="translate(2177,299)"><rect width="66" height="25" fill="#f0301a"/><text x="33" y="19" class="bw">RAND</text><rect x="66" width="26" height="25" fill="#fff"/><text x="79" y="19" class="bk">R</text><rect x="92" width="45" height="25" fill="#ff0"/><text x="114" y="19" class="by">|V|<tspan font-size="11" dy="-7">2</tspan></text><rect width="137" height="25" fill="none" stroke="#000" stroke-width="3"/></g>
<g transform="translate(2177,361)"><rect width="66" height="25" fill="#f0301a"/><text x="33" y="19" class="bw">RAND</text><rect x="66" width="26" height="25" fill="#fff"/><text x="79" y="19" class="bk">R</text><rect x="92" width="45" height="25" fill="#ff0"/><text x="114" y="19" class="by">|V|</text><rect width="137" height="25" fill="none" stroke="#333" stroke-width="1.5"/></g>
<g transform="translate(2177,422)"><rect width="66" height="25" fill="#f0301a"/><text x="33" y="19" class="bw">RAND</text><rect x="66" width="26" height="25" fill="#000"/><text x="79" y="19" class="bw">W</text><rect x="92" width="45" height="25" fill="#ff0"/><text x="114" y="19" class="by">|V|</text><rect width="137" height="25" fill="none" stroke="#333" stroke-width="1.5"/></g>
<g transform="translate(2177,522)"><rect width="66" height="25" fill="#1c8a1c"/><text x="33" y="19" class="bw">SEQ</text><rect x="66" width="26" height="25" fill="#fff"/><text x="79" y="19" class="bk">R</text><rect x="92" width="45" height="25" fill="#ff0"/><text x="114" y="19" class="by">|V|<tspan font-size="11" dy="-7">2</tspan></text><rect width="137" height="25" fill="none" stroke="#333" stroke-width="1.5"/></g>
<g transform="translate(2177,568)"><rect width="66" height="25" fill="#1c8a1c"/><text x="33" y="19" class="bw">SEQ</text><rect x="66" width="26" height="25" fill="#fff"/><text x="79" y="19" class="bk">R</text><rect x="92" width="45" height="25" fill="#ff0"/><text x="114" y="19" class="by">|V|<tspan font-size="11" dy="-7">2</tspan></text><rect width="137" height="25" fill="none" stroke="#333" stroke-width="1.5"/></g>
<g transform="translate(2177,659)"><rect width="66" height="25" fill="#1c8a1c"/><text x="33" y="19" class="bw">SEQ</text><rect x="66" width="26" height="25" fill="#fff"/><text x="79" y="19" class="bk">R</text><rect x="92" width="45" height="25" fill="#ff0"/><text x="114" y="19" class="by">|V|</text><rect width="137" height="25" fill="none" stroke="#333" stroke-width="1.5"/></g>
<g transform="translate(2177,730)"><rect width="66" height="25" fill="#1c8a1c"/><text x="33" y="19" class="bw">SEQ</text><rect x="66" width="26" height="25" fill="#000"/><text x="79" y="19" class="bw">W</text><rect x="92" width="45" height="25" fill="#ff0"/><text x="114" y="19" class="by">|V|</text><rect width="137" height="25" fill="none" stroke="#333" stroke-width="1.5"/></g>

<!-- Caption -->
<text x="47" y="850" font-family="Liberation Serif" font-size="36" textLength="2283" lengthAdjust="spacingAndGlyphs"><tspan font-weight="bold">Figure 1.</tspan> The execution flow of graph traversal and graph mining algorithm with different data format: CSR and adjacent matrix.</text>
<text x="47" y="905" font-family="Liberation Serif" font-size="36" textLength="2062" lengthAdjust="spacingAndGlyphs">The pattern to access data is labeled by <tspan font-family="Liberation Mono" font-size="33">SEQ/RAND</tspan>, as well as the memory cost <tspan font-style="italic">O</tspan>(|<tspan font-style="italic">V</tspan>|)/<tspan font-style="italic">O</tspan>(|<tspan font-style="italic">E</tspan>|)/<tspan font-style="italic">O</tspan>(|<tspan font-style="italic">V</tspan>|<tspan font-size="24" dy="-12">2</tspan><tspan dy="12">)/</tspan><tspan font-style="italic">O</tspan>(<tspan font-style="italic">d</tspan><tspan font-style="italic" font-size="24" dy="8">max</tspan><tspan dy="-8">).</tspan></text>
</svg>
</body></html>
